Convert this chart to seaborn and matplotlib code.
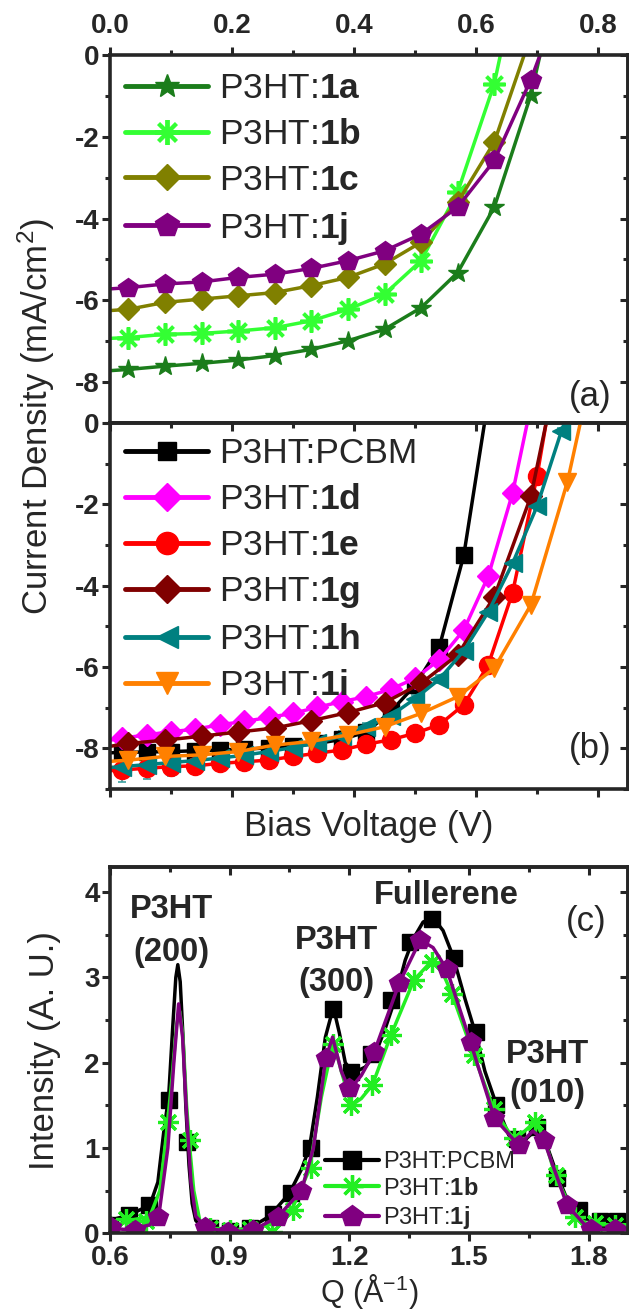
import pandas as pd
import seaborn as sns
import matplotlib.pyplot as plt
from matplotlib.lines import Line2D
from matplotlib.ticker import MultipleLocator

#Style
sns.set_style('ticks')
plt.rcParams['font.family'] = ['Liberation Sans', 'DejaVu Sans']
plt.rcParams['mathtext.fontset'] = 'custom'
plt.rcParams['mathtext.rm'] = 'Liberation Sans'
plt.rcParams['mathtext.bf'] = 'Liberation Sans:bold'
plt.rcParams['mathtext.it'] = 'Liberation Sans:italic'

#Panel (a) data: J-V curves (markers every 0.06 V)
v_a = [0.03, 0.09, 0.15, 0.21, 0.27, 0.33, 0.39, 0.45, 0.51, 0.57, 0.63, 0.69]
j_1a = [-7.69, -7.61, -7.54, -7.46, -7.35, -7.20, -6.99, -6.71, -6.18, -5.32, -3.72, -0.98]
j_1b = [-6.91, -6.83, -6.81, -6.75, -6.67, -6.50, -6.22, -5.85, -5.03, -3.35, -0.70]
j_1c = [-6.22, -6.05, -5.97, -5.89, -5.81, -5.64, -5.44, -5.11, -4.58, -3.60, -2.13]
j_1j = [-5.69, -5.60, -5.55, -5.44, -5.36, -5.22, -5.03, -4.79, -4.38, -3.72, -2.58, -0.60]
jsc_a = {'1a': -7.72, '1b': -6.93, '1c': -6.25, '1j': -5.72}
voc_a = {'1a': 0.705, '1b': 0.640, '1c': 0.679, '1j': 0.705}

#Panel (b) data
v_b4 = [0.02, 0.06, 0.10, 0.14, 0.18, 0.22, 0.26, 0.30, 0.34, 0.38, 0.42, 0.46,
        0.50, 0.54, 0.58, 0.62, 0.66, 0.70, 0.74]
v_b6 = [0.03, 0.09, 0.15, 0.21, 0.27, 0.33, 0.39, 0.45, 0.51, 0.57, 0.63, 0.69, 0.75]
j_pcbm = [-8.10, -8.09, -8.08, -8.06, -8.04, -8.02, -7.99, -7.95, -7.88, -7.78, -7.60,
          -7.10, -6.45, -5.50, -3.25]
j_1d = [-7.75, -7.67, -7.59, -7.53, -7.42, -7.34, -7.24, -7.14, -6.99, -6.85, -6.73,
        -6.55, -6.28, -5.82, -5.09, -3.77, -1.72]
j_1e = [-8.53, -8.49, -8.45, -8.43, -8.37, -8.33, -8.29, -8.20, -8.12, -8.04, -7.90,
        -7.79, -7.63, -7.42, -6.93, -5.95, -4.17, -1.31]
j_1g = [-7.88, -7.80, -7.70, -7.60, -7.50, -7.32, -7.12, -6.88, -6.40, -5.70, -4.27, -1.80]
j_1h = [-8.45, -8.40, -8.35, -8.30, -8.24, -8.17, -8.08, -7.98, -7.86, -7.70, -7.48,
        -7.20, -6.78, -6.30, -5.60, -4.65, -3.45, -2.05, -0.20]
err_1h = [0.38, 0.35, 0.33, 0.30, 0.27, 0.24, 0.20, 0.17, 0.14, 0.12, 0.10,
          0.10, 0.10, 0.10, 0.08, 0.08, 0.08, 0.08, 0.08]
j_1i = [-8.29, -8.20, -8.16, -8.08, -7.92, -7.83, -7.67, -7.47, -7.14, -6.73, -6.03,
        -4.47, -1.44]
jsc_b = {'pcbm': -8.11, '1d': -7.80, '1e': -8.55, '1g': -7.95, '1h': -8.47, '1i': -8.32}
voc_b = {'pcbm': 0.614, '1d': 0.684, '1e': 0.715, '1g': 0.715, '1h': 0.745, '1i': 0.771}

#Panel (c) data: GIWAXS line cuts
q_line_pcbm = [0.600, 0.650, 0.700, 0.720, 0.735, 0.747, 0.757, 0.765, 0.770, 0.776,
               0.783, 0.790, 0.798, 0.806, 0.815, 0.830, 0.850, 0.900, 0.950, 1.000,
               1.050, 1.080, 1.100, 1.120, 1.140, 1.160, 1.175, 1.190, 1.210, 1.240,
               1.265, 1.290, 1.313, 1.340, 1.360, 1.385, 1.410, 1.435, 1.460, 1.490,
               1.518, 1.540, 1.568, 1.600, 1.630, 1.665, 1.690, 1.720, 1.750, 1.780,
               1.830, 1.900]
i_line_pcbm = [0.15, 0.22, 0.33, 0.60, 1.20, 1.60, 2.40, 3.00, 3.15, 2.95,
               2.30, 1.50, 0.80, 0.35, 0.15, 0.08, 0.06, 0.03, 0.06, 0.20,
               0.47, 0.75, 1.00, 1.60, 2.30, 2.65, 2.35, 2.00, 1.88, 1.95,
               2.10, 2.40, 2.72, 3.20, 3.45, 3.65, 3.70, 3.55, 3.25, 2.75,
               2.32, 1.90, 1.52, 1.15, 1.05, 1.20, 1.10, 0.70, 0.35, 0.17,
               0.16, 0.14]
q_line_1b = [0.600, 0.650, 0.700, 0.725, 0.740, 0.755, 0.767, 0.775, 0.783, 0.792,
             0.800, 0.810, 0.825, 0.850, 0.900, 0.950, 1.000, 1.058, 1.100, 1.130,
             1.160, 1.180, 1.205, 1.230, 1.258, 1.304, 1.362, 1.408, 1.430, 1.458,
             1.512, 1.562, 1.612, 1.640, 1.666, 1.690, 1.716, 1.766, 1.800, 1.900]
i_line_1b = [0.08, 0.15, 0.20, 0.50, 1.10, 1.80, 2.45, 2.60, 2.30, 1.50,
             1.00, 0.50, 0.15, 0.06, 0.04, 0.05, 0.10, 0.30, 0.75, 1.60,
             2.25, 1.90, 1.50, 1.58, 1.74, 2.32, 2.97, 3.20, 3.10, 2.80,
             2.09, 1.46, 1.10, 1.20, 1.31, 1.10, 0.68, 0.20, 0.10, 0.10]
q_line_1j = [0.600, 0.650, 0.700, 0.725, 0.745, 0.760, 0.772, 0.782, 0.792, 0.803,
             0.815, 0.840, 0.900, 0.960, 1.020, 1.080, 1.110, 1.141, 1.158, 1.180,
             1.200, 1.230, 1.262, 1.325, 1.378, 1.410, 1.444, 1.504, 1.564, 1.625,
             1.660, 1.688, 1.746, 1.800, 1.900]
i_line_1j = [0.06, 0.04, 0.10, 0.30, 1.00, 2.00, 2.69, 2.30, 1.40, 0.60,
             0.20, 0.07, 0.01, 0.04, 0.19, 0.50, 1.00, 2.05, 2.30, 1.90,
             1.68, 1.85, 2.12, 2.93, 3.44, 3.35, 3.10, 2.24, 1.35, 1.03,
             1.20, 1.09, 0.33, 0.05, 0.04]
#marker positions in (c)
q_mk_pcbm = [0.600, 0.648, 0.698, 0.747, 0.792, 0.850, 0.900, 0.950, 1.008, 1.053,
             1.103, 1.160, 1.204, 1.255, 1.304, 1.352, 1.408, 1.463, 1.517, 1.569,
             1.620, 1.670, 1.720, 1.775, 1.829, 1.871]
i_mk_pcbm = [0.10, 0.21, 0.33, 1.56, 1.07, 0.06, 0.03, 0.06, 0.23, 0.47,
             1.00, 2.63, 1.89, 2.10, 2.73, 3.41, 3.69, 3.23, 2.36, 1.50,
             1.10, 1.25, 0.65, 0.27, 0.15, 0.15]
q_mk_1b = [0.600, 0.640, 0.690, 0.746, 0.800, 0.850, 0.900, 0.950, 1.005, 1.058,
           1.105, 1.160, 1.205, 1.258, 1.304, 1.363, 1.408, 1.458, 1.513, 1.563,
           1.613, 1.666, 1.717, 1.766, 1.815, 1.865]
i_mk_1b = [0.08, 0.17, 0.15, 1.31, 1.09, 0.06, 0.04, 0.05, 0.02, 0.27,
           0.76, 2.22, 1.51, 1.74, 2.32, 2.97, 3.18, 2.81, 2.09, 1.46,
           1.12, 1.31, 0.68, 0.19, 0.12, 0.10]
q_mk_1j = [0.603, 0.663, 0.721, 0.837, 0.897, 0.958, 1.020, 1.079, 1.141, 1.200,
           1.263, 1.325, 1.378, 1.444, 1.504, 1.564, 1.625, 1.688, 1.746, 1.805, 1.865]
i_mk_1j = [0.07, 0.04, 0.19, 0.07, 0.01, 0.04, 0.19, 0.50, 2.05, 1.70,
           2.12, 2.93, 3.44, 3.10, 2.24, 1.35, 1.03, 1.09, 0.33, 0.05, 0.05]

#Colors / markers
c_1a, c_1b, c_1c, c_1j = '#1b7d1b', '#33ff33', '#808000', '#800080'
c_pcbm, c_1d, c_1e, c_1g, c_1h, c_1i = 'black', '#ff00ff', '#ff0000', '#800000', '#008080', '#ff8000'
ASTER = (8, 2, 0)
TICKFS = 20
LABFS = 25
LEGFS = 25.5

def jv(ax, v, j, j0, voc, color, marker, ms, mew=1.0):
    df = pd.DataFrame({'V': [0] + v + [voc], 'J': [j0] + j + [0]})
    sns.lineplot(data=df, x='V', y='J', ax=ax, color=color, lw=2.5, marker=marker,
                 ms=ms, mec=color, mfc=color, mew=mew,
                 markevery=list(range(1, len(v) + 1)), clip_on=True)

def handle(color, marker, ms, mew=1.0, lw=3.5):
    return Line2D([], [], color=color, lw=lw, marker=marker, ms=ms, mec=color,
                  mfc=color, mew=mew)

def style_axis(ax, xmaj, xmin, ymaj, ymin):
    ax.xaxis.set_major_locator(MultipleLocator(xmaj))
    ax.xaxis.set_minor_locator(MultipleLocator(xmin))
    ax.yaxis.set_major_locator(MultipleLocator(ymaj))
    ax.yaxis.set_minor_locator(MultipleLocator(ymin))
    for s in ax.spines.values():
        s.set_linewidth(2.6)
        s.set_visible(True)
    ax.tick_params(which='major', length=5.5, width=2.2, labelsize=TICKFS, direction='out')
    ax.tick_params(which='minor', length=3.5, width=2.2, direction='out')
    ax.set_xlabel('')
    ax.set_ylabel('')

def inner_ticks(ax, side, maj, mino):
    if side == 'right':
        sec = ax.secondary_yaxis('right')
        sec.yaxis.set_major_locator(MultipleLocator(maj))
        sec.yaxis.set_minor_locator(MultipleLocator(mino))
    else:
        sec = ax.secondary_xaxis(side)
        sec.xaxis.set_major_locator(MultipleLocator(maj))
        sec.xaxis.set_minor_locator(MultipleLocator(mino))
    sec.tick_params(which='major', direction='in', length=5.5, width=2.2)
    sec.tick_params(which='minor', direction='in', length=3.5, width=2.2)
    sec.tick_params(labelleft=False, labelright=False, labeltop=False, labelbottom=False)
    for s in sec.spines.values():
        s.set_linewidth(2.6)
    return sec

def bold_ticks(ax):
    for t in ax.get_xticklabels() + ax.get_yticklabels():
        t.set_fontweight('bold')

fig = plt.figure(figsize=(6.29, 13.13), dpi=100)
L, W = 0.1749, 0.8243
ax_a = fig.add_axes([L, 0.67784, W, 0.28027])
ax_b = fig.add_axes([L, 0.39909, W, 0.27875])
ax_c = fig.add_axes([L, 0.0607, W, 0.2793])

#Panel (a)
jv(ax_a, v_a, j_1a, jsc_a['1a'], voc_a['1a'], c_1a, '*', 15)
jv(ax_a, v_a[:11], j_1b, jsc_a['1b'], voc_a['1b'], c_1b, ASTER, 16, 2.6)
jv(ax_a, v_a[:11], j_1c, jsc_a['1c'], voc_a['1c'], c_1c, 'D', 11)
jv(ax_a, v_a, j_1j, jsc_a['1j'], voc_a['1j'], c_1j, 'p', 15)
ax_a.set_xlim(0, 0.85)
ax_a.set_ylim(-9, 0)
style_axis(ax_a, 0.2, 0.1, 2, 1)
ax_a.xaxis.tick_top()
ax_a.tick_params(axis='x', which='both', top=True, bottom=False, labeltop=True,
                 labelbottom=False, pad=6)
ax_a.tick_params(axis='y', pad=2)
inner_ticks(ax_a, 'right', 2, 1)
ax_a.xaxis.set_major_formatter(plt.FuncFormatter(lambda x, p: '%.1f' % x))
ax_a.yaxis.set_major_formatter(plt.FuncFormatter(lambda x, p: '%d' % round(x)))
ax_a.legend([handle(c_1a, '*', 18), handle(c_1b, ASTER, 18, 2.8),
             handle(c_1c, 'D', 13), handle(c_1j, 'p', 18)],
            ['P3HT:$\\mathbf{1a}$', 'P3HT:$\\mathbf{1b}$', 'P3HT:$\\mathbf{1c}$',
             'P3HT:$\\mathbf{1j}$'],
            loc='upper left', bbox_to_anchor=(0.029, 0.953), frameon=False,
            prop={'size': LEGFS}, handlelength=2.35, handletextpad=0.3,
            labelspacing=0.36, borderpad=0, borderaxespad=0)
ax_a.text(0.787, -8.35, '(a)', fontsize=LABFS, ha='center', va='center')

#Panel (b)
jv(ax_b, v_b4[:15], j_pcbm, jsc_b['pcbm'], voc_b['pcbm'], c_pcbm, 's', 11)
jv(ax_b, v_b4[:17], j_1d, jsc_b['1d'], voc_b['1d'], c_1d, 'D', 11)
jv(ax_b, v_b4[:18], j_1e, jsc_b['1e'], voc_b['1e'], c_1e, 'o', 13)
jv(ax_b, v_b6[:12], j_1g, jsc_b['1g'], voc_b['1g'], c_1g, 'D', 11)
jv(ax_b, v_b4, j_1h, jsc_b['1h'], voc_b['1h'], c_1h, '<', 13)
ax_b.errorbar(v_b4, j_1h, yerr=err_1h, fmt='none', ecolor='#3aa0a0', elinewidth=1.2,
              capsize=3, capthick=1.2, zorder=1)
jv(ax_b, v_b6, j_1i, jsc_b['1i'], voc_b['1i'], c_1i, 'v', 13)
ax_b.set_xlim(0, 0.85)
ax_b.set_ylim(-9, 0)
style_axis(ax_b, 0.2, 0.1, 2, 1)
ax_b.tick_params(axis='x', which='both', labelbottom=False)
ax_b.tick_params(axis='y', pad=2)
inner_ticks(ax_b, 'right', 2, 1)
inner_ticks(ax_b, 'top', 0.2, 0.1)
ax_b.yaxis.set_major_formatter(plt.FuncFormatter(lambda x, p: '%d' % round(x)))
ax_b.legend([handle(c_pcbm, 's', 13), handle(c_1d, 'D', 14), handle(c_1e, 'o', 16),
             handle(c_1g, 'D', 14), handle(c_1h, '<', 16), handle(c_1i, 'v', 16)],
            ['P3HT:PCBM', 'P3HT:$\\mathbf{1d}$', 'P3HT:$\\mathbf{1e}$',
             'P3HT:$\\mathbf{1g}$', 'P3HT:$\\mathbf{1h}$', 'P3HT:$\\mathbf{1i}$'],
            loc='upper left', bbox_to_anchor=(0.029, 0.962), frameon=False,
            prop={'size': LEGFS}, handlelength=2.35, handletextpad=0.3,
            labelspacing=0.37, borderpad=0, borderaxespad=0)
ax_b.text(0.787, -8.0, '(b)', fontsize=LABFS, ha='center', va='center')

#Panel (c)
for q, i, qm, im, col, mk, ms, mew in [
        (q_line_pcbm, i_line_pcbm, q_mk_pcbm, i_mk_pcbm, c_pcbm, 's', 11, 1.0),
        (q_line_1b, i_line_1b, q_mk_1b, i_mk_1b, '#22ee22', ASTER, 15, 2.3),
        (q_line_1j, i_line_1j, q_mk_1j, i_mk_1j, c_1j, 'p', 15, 1.0)]:
    sns.lineplot(x=q, y=i, ax=ax_c, color=col, lw=2.5)
    sns.lineplot(x=qm, y=im, ax=ax_c, color=col, linestyle='none', marker=mk, ms=ms,
                 mec=col, mfc=col, mew=mew)
ax_c.set_xlim(0.6, 1.9)
ax_c.set_ylim(0, 4.3)
style_axis(ax_c, 0.3, 0.15, 1, 0.5)
ax_c.tick_params(axis='x', pad=3)
ax_c.tick_params(axis='y', pad=2)
inner_ticks(ax_c, 'right', 1, 0.5)
inner_ticks(ax_c, 'top', 0.3, 0.15)
ax_c.xaxis.set_major_formatter(plt.FuncFormatter(lambda x, p: '%.1f' % x))
ax_c.yaxis.set_major_formatter(plt.FuncFormatter(lambda x, p: '%d' % round(x)))
ax_c.legend([handle(c_pcbm, 's', 13, lw=3), handle('#22ee22', ASTER, 16, 2.4, lw=3),
             handle(c_1j, 'p', 16, lw=3)],
            ['P3HT:PCBM', 'P3HT:$\\mathbf{1b}$', 'P3HT:$\\mathbf{1j}$'],
            loc='upper left', bbox_to_anchor=(0.415, 0.225), frameon=False,
            prop={'size': 17}, handlelength=2.3, handletextpad=0.15,
            labelspacing=0.2, borderpad=0, borderaxespad=0)
ann = dict(fontsize=23.5, fontweight='bold', ha='center', va='center')
ax_c.text(0.753, 3.80, 'P3HT', **ann)
ax_c.text(0.753, 3.29, '(200)', **ann)
ax_c.text(1.167, 3.43, 'P3HT', **ann)
ax_c.text(1.167, 2.94, '(300)', **ann)
ax_c.text(1.444, 3.96, 'Fullerene', **ann)
ax_c.text(1.697, 2.10, 'P3HT', **ann)
ax_c.text(1.697, 1.64, '(010)', **ann)
ax_c.text(1.793, 3.66, '(c)', fontsize=LABFS, ha='center', va='center')

for ax in (ax_a, ax_b, ax_c):
    bold_ticks(ax)

#Axis labels
fig.text(0.057, 0.6828, 'Current Density (mA/cm$^2$)', rotation=90, fontsize=LABFS,
         ha='center', va='center')
fig.text(0.5866, 0.3704, 'Bias Voltage (V)', fontsize=LABFS, ha='center', va='center')
fig.text(0.0715, 0.1995, 'Intensity (A. U.)', rotation=90, fontsize=LABFS,
         ha='center', va='center')
fig.text(0.5866, 0.0015, 'Q (Å$^{-1}$)', fontsize=22, ha='center', va='bottom')

fig.savefig('out.png', dpi=100)
